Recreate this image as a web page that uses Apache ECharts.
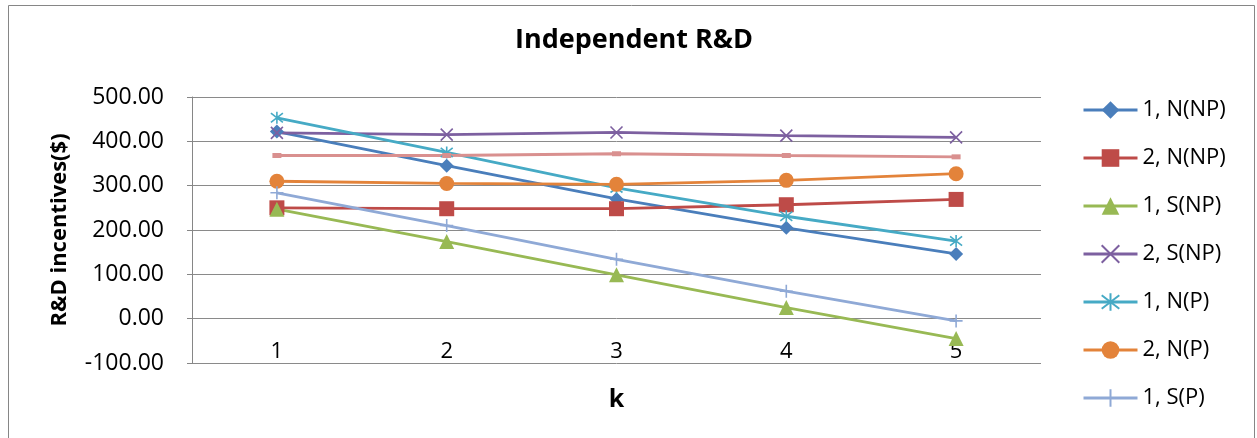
<!DOCTYPE html>
<html>
<head>
<meta charset="utf-8">
<script src="https://cdn.jsdelivr.net/npm/echarts@6/dist/echarts.min.js"></script>
<style>
html,body{margin:0;padding:0;background:#fff;}
#chart{width:1257px;height:438px;}
</style>
</head>
<body>
<div id="chart"></div>
<script>
var categories = ['1', '2', '3', '4', '5'];
var s1NNP = [422, 345, 270, 205, 146];
var s2NNP = [250, 248, 248, 257, 269];
var s1SNP = [247, 174, 99, 25, -45];
var s2SNP = [419, 415, 420, 413, 409];
var s1NP = [453, 375, 295, 231, 175];
var s2NP = [310, 305, 303, 312, 327];
var s1SP = [284, 210, 134, 62, -5];
var s2SP = [368, 368, 372, 368, 365];
var seriesNames = ['1, N(NP)', '2, N(NP)', '1, S(NP)', '2, S(NP)', '1, N(P)', '2, N(P)', '1, S(P)', '2, S(P)'];
var legendNames = ['1, N(NP)', '2, N(NP)', '1, S(NP)', '2, S(NP)', '1, N(P)', '2, N(P)', '1, S(P)'];

var FONT = '"Open Sans", "Noto Sans", sans-serif';
var X_PATH = 'path://M0,0L10,10M10,0L0,10';
var AST_PATH = 'path://M0,0L10,10M10,0L0,10M5,-1.5L5,11.5';
var PLUS_PATH = 'path://M5,0L5,10M0,5L10,5';

function mk(name, data, color, symbol, size, stroke) {
  return {
    name: name,
    type: 'line',
    data: data,
    symbol: symbol,
    symbolSize: size,
    showAllSymbol: true,
    lineStyle: { color: color, width: 2.8 },
    itemStyle: stroke
      ? { color: color, borderColor: color, borderWidth: 1.6 }
      : { color: color, borderWidth: 0 },
    emphasis: { disabled: true },
    z: 3
  };
}

var chart = echarts.init(document.getElementById('chart'), null, { renderer: 'canvas' });
chart.setOption({
  animation: false,
  backgroundColor: '#ffffff',
  textStyle: { fontFamily: FONT },
  graphic: [{
    type: 'rect',
    shape: { x: 8.5, y: 5.5, width: 1246, height: 460 },
    style: { fill: 'none', stroke: '#868686', lineWidth: 1 },
    silent: true
  }],
  title: {
    text: 'Independent R&D',
    left: 634,
    top: 27,
    textAlign: 'center',
    padding: 0,
    textStyle: { fontFamily: FONT, fontWeight: 'bold', fontSize: 27, color: '#000' }
  },
  legend: {
    data: legendNames,
    orient: 'vertical',
    left: 1082,
    top: 99,
    itemWidth: 54,
    itemHeight: 22,
    itemGap: 26,
    padding: 0,
    lineStyle: { width: 3 },
    textStyle: { fontFamily: FONT, fontSize: 22, color: '#000', lineHeight: 22, padding: [0, 0, 0, 0] },
    selectedMode: false
  },
  grid: { left: 192, right: 216, top: 97, bottom: 75, containLabel: false },
  xAxis: {
    type: 'category',
    data: categories,
    boundaryGap: true,
    position: 'bottom',
    name: 'k',
    nameLocation: 'middle',
    nameGap: 24,
    nameTextStyle: { fontFamily: FONT, fontWeight: 'bold', fontSize: 25, color: '#000', verticalAlign: 'top' },
    axisLine: { show: false, onZero: false },
    axisTick: { show: false },
    axisLabel: { inside: true, margin: 0, fontFamily: FONT, fontSize: 22, color: '#000' },
    splitLine: { show: false }
  },
  yAxis: {
    type: 'value',
    min: -100,
    max: 500,
    interval: 100,
    name: 'R&D incentives($)',
    nameLocation: 'middle',
    nameRotate: 90,
    nameGap: 121,
    nameTextStyle: { fontFamily: FONT, fontWeight: 'bold', fontSize: 22, color: '#000' },
    axisLine: { show: true, lineStyle: { color: '#868686', width: 1 } },
    axisTick: { show: true, inside: false, length: 5, lineStyle: { color: '#868686' } },
    axisLabel: {
      margin: 28,
      fontFamily: FONT,
      fontSize: 23,
      color: '#000',
      formatter: function (v) { return v.toFixed(2); }
    },
    splitLine: { show: true, lineStyle: { color: '#8a8a8a', width: 1 } }
  },
  series: [
    mk(seriesNames[0], s1NNP, '#4a7ebb', 'diamond', 14, false),
    mk(seriesNames[1], s2NNP, '#be4b48', 'rect', 15, false),
    mk(seriesNames[2], s1SNP, '#98b954', 'triangle', 15, false),
    mk(seriesNames[3], s2SNP, '#7d60a0', X_PATH, 12, true),
    mk(seriesNames[4], s1NP, '#46aac5', AST_PATH, 12, true),
    mk(seriesNames[5], s2NP, '#e3833a', 'circle', 15, false),
    mk(seriesNames[6], s1SP, '#8fa9d6', PLUS_PATH, 13, true),
    mk(seriesNames[7], s2SP, '#d9908f', 'rect', [9, 5], false)
  ]
});
</script>
</body>
</html>
